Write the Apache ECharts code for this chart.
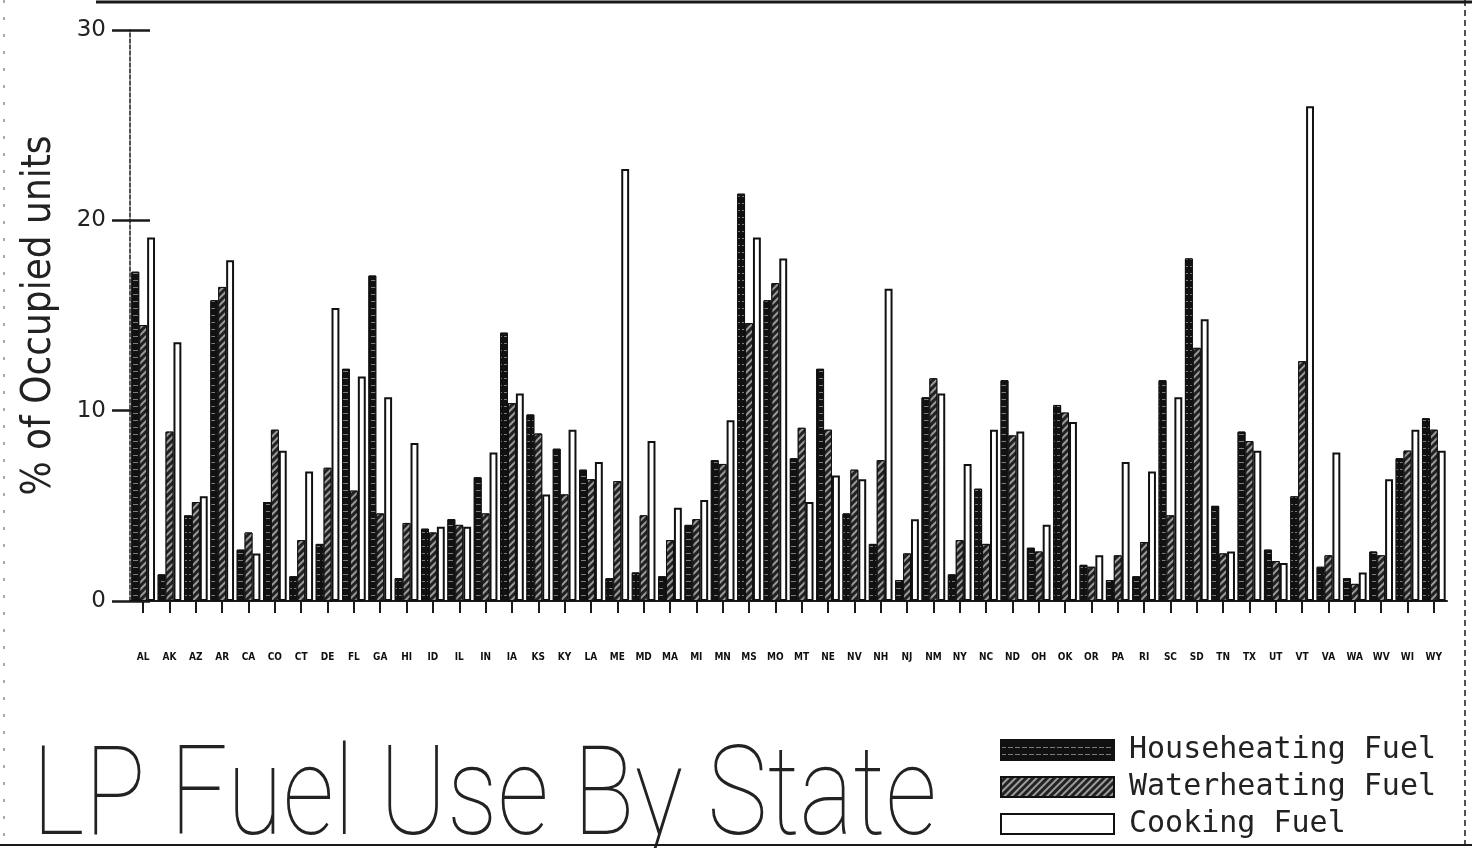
<!DOCTYPE html>
<html>
<head>
<meta charset="utf-8">
<script src="https://cdn.jsdelivr.net/npm/echarts@6/dist/echarts.min.js"></script>
<style>
html,body{margin:0;padding:0;background:#fff;}
#chart{width:1472px;height:848px;}
</style>
</head>
<body>
<div id="chart"></div>
<script>
var states = ['AL','AK','AZ','AR','CA','CO','CT','DE','FL','GA','HI','ID','IL','IN','IA','KS','KY','LA','ME','MD','MA','MI','MN','MS','MO','MT','NE','NV','NH','NJ','NM','NY','NC','ND','OH','OK','OR','PA','RI','SC','SD','TN','TX','UT','VT','VA','WA','WV','WI','WY'];
var househeating = [17.3,1.4,4.5,15.8,2.7,5.2,1.3,3.0,12.2,17.1,1.2,3.8,4.3,6.5,14.1,9.8,8.0,6.9,1.2,1.5,1.3,4.0,7.4,21.4,15.8,7.5,12.2,4.6,3.0,1.1,10.7,1.4,5.9,11.6,2.8,10.3,1.9,1.1,1.3,11.6,18.0,5.0,8.9,2.7,5.5,1.8,1.2,2.6,7.5,9.6];
var waterheating = [14.5,8.9,5.2,16.5,3.6,9.0,3.2,7.0,5.8,4.6,4.1,3.6,4.0,4.6,10.4,8.8,5.6,6.4,6.3,4.5,3.2,4.3,7.2,14.6,16.7,9.1,9.0,6.9,7.4,2.5,11.7,3.2,3.0,8.7,2.6,9.9,1.8,2.4,3.1,4.5,13.3,2.5,8.4,2.1,12.6,2.4,0.9,2.4,7.9,9.0];
var cooking = [19.1,13.6,5.5,17.9,2.5,7.9,6.8,15.4,11.8,10.7,8.3,3.9,3.9,7.8,10.9,5.6,9.0,7.3,22.7,8.4,4.9,5.3,9.5,19.1,18.0,5.2,6.6,6.4,16.4,4.3,10.9,7.2,9.0,8.9,4.0,9.4,2.4,7.3,6.8,10.7,14.8,2.6,7.9,2.0,26.0,7.8,1.5,6.4,9.0,7.9];
var yTicks = [0, 10, 20, 30];

var chart = echarts.init(document.getElementById('chart'));
var ink = '#1a1a1a';
var option = {
  backgroundColor: '#fff',
  animation: false,
  grid: {left: 130, right: 25, top: 30, bottom: 247, containLabel: false},
  legend: {
    orient: 'vertical', left: 1000, top: 734, padding: 0,
    itemWidth: 113, itemHeight: 20, itemGap: 5,
    icon: 'rect',
    textStyle: {fontFamily: 'DejaVu Sans Mono', fontSize: 30, color: '#222', lineHeight: 32, padding: [0,0,0,10]},
    data: ['Househeating Fuel', 'Waterheating Fuel', 'Cooking Fuel']
  },
  graphic: [
    {type: 'text', left: 32, top: 741, scaleX: 0.82,
      style: {text: 'LP Fuel Use By State', font: '100 124px Roboto, "DejaVu Sans", sans-serif', fill: '#222'}},
    {type: 'line', shape: {x1: 96, y1: 2, x2: 1472, y2: 2}, style: {stroke: ink, lineWidth: 3}},
    {type: 'line', shape: {x1: 0, y1: 845, x2: 1472, y2: 845}, style: {stroke: ink, lineWidth: 2}},
    {type: 'line', shape: {x1: 1465, y1: 0, x2: 1465, y2: 848}, style: {stroke: ink, lineWidth: 1.5, lineDash: [6, 4]}},
    {type: 'line', shape: {x1: 4, y1: 0, x2: 4, y2: 848}, style: {stroke: '#555', lineWidth: 1, lineDash: [3, 14]}}
  ],
  xAxis: [
    {type: 'category', data: states, gridIndex: 0,
      axisLine: {show: true, lineStyle: {color: ink, width: 2}},
      axisTick: {show: false}, axisLabel: {show: false}},
    {type: 'category', data: states, gridIndex: 0, position: 'bottom', offset: 7,
      axisLine: {show: false},
      axisTick: {show: true, alignWithLabel: true, length: 12, lineStyle: {color: ink, width: 2}},
      axisLabel: {show: true, interval: 0, margin: 44, fontSize: 10, fontWeight: 'bold', fontFamily: 'DejaVu Sans Condensed, DejaVu Sans', color: '#111'}}
  ],
  yAxis: [
    {type: 'value', min: 0, max: 30, interval: 10,
      name: '% of Occupied units', nameLocation: 'middle', nameGap: 70, nameRotate: 90,
      nameTextStyle: {fontFamily: 'DejaVu Sans Condensed, DejaVu Sans', fontSize: 40, color: '#222'},
      axisLine: {show: true, lineStyle: {color: ink, width: 1.5, type: [4, 2]}},
      axisTick: {show: true, length: 18, lineStyle: {color: ink, width: 2.5}},
      axisLabel: {margin: 24, fontSize: 23, fontFamily: 'DejaVu Sans', color: '#222'},
      splitLine: {show: false}},
    {type: 'value', min: 0, max: 30, interval: 10, position: 'left',
      axisLine: {show: false},
      axisTick: {show: true, inside: true, length: 20, lineStyle: {color: ink, width: 2.5}},
      axisLabel: {show: false}, splitLine: {show: false}}
  ],
  series: [
    {name: 'Househeating Fuel', type: 'bar', data: househeating, barGap: '0%', barCategoryGap: '10%',
      itemStyle: {color: '#111', borderColor: '#111', borderWidth: 1,
        decal: {symbol: 'rect', symbolSize: 1, dashArrayX: [5, 2], dashArrayY: [1, 6], color: 'rgba(255,255,255,0.45)'}}},
    {name: 'Waterheating Fuel', type: 'bar', data: waterheating,
      itemStyle: {color: '#222', borderColor: '#111', borderWidth: 1,
        decal: {symbol: 'rect', symbolSize: 1, dashArrayX: [1, 0], dashArrayY: [2, 3], rotation: -Math.PI / 4, color: 'rgba(255,255,255,0.55)'}}},
    {name: 'Cooking Fuel', type: 'bar', data: cooking,
      itemStyle: {color: '#fff', borderColor: '#111', borderWidth: 2}}
  ]
};
chart.setOption(option);
</script>
</body>
</html>
